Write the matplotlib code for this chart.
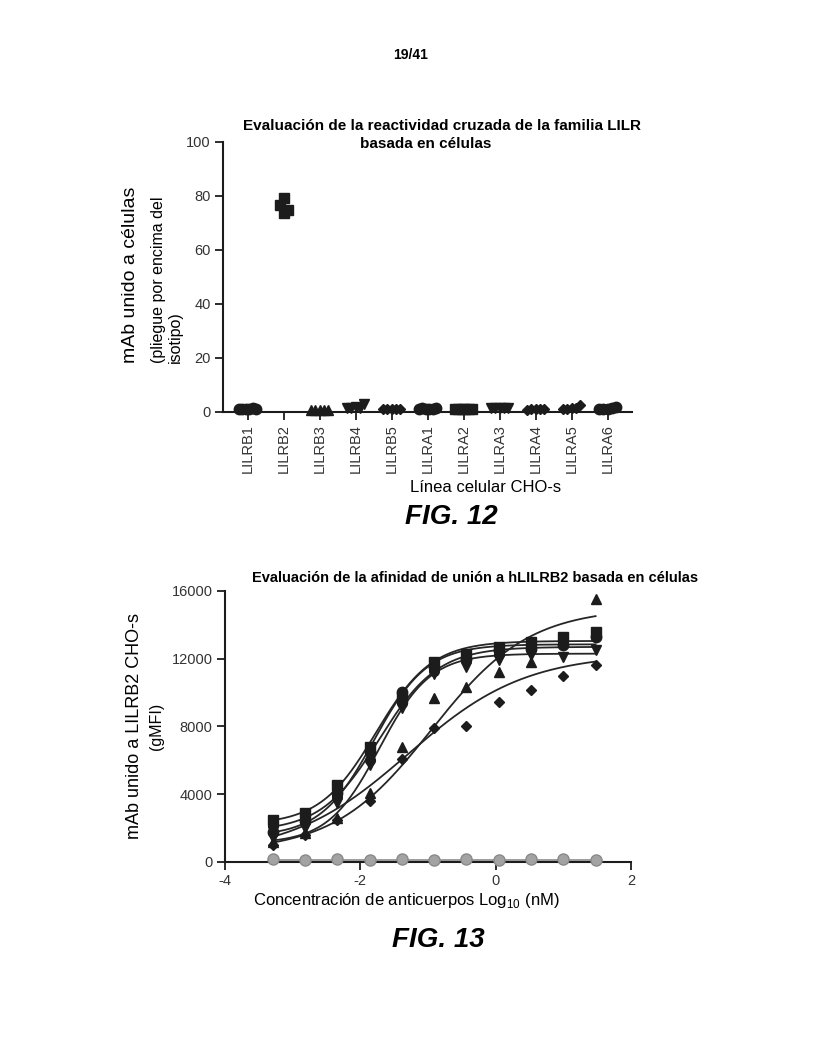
import numpy as np
import matplotlib
matplotlib.use("Agg")
import matplotlib.pyplot as plt

plt.rcParams['font.family'] = ['Liberation Sans', 'DejaVu Sans']

# --- FIG. 12 data: fold over isotype per CHO-s line ---
lilr_labels = ['LILRB1', 'LILRB2', 'LILRB3', 'LILRB4', 'LILRB5', 'LILRA1',
               'LILRA2', 'LILRA3', 'LILRA4', 'LILRA5', 'LILRA6']
lilr_markers = ['o', 's', '^', 'v', 'D', 'o', 's', 'v', 'D', 'D', 'o']
lilrb1 = [1.0, 1.1, 0.9, 1.0, 1.2, 1.0]
lilrb2 = [79.2, 76.7, 74.8, 73.6]
lilrb3 = [0.6, 0.8, 0.5, 0.7, 0.6]
lilrb4 = [1.5, 1.2, 1.6, 1.4, 3.0]
lilrb5 = [0.9, 1.0, 1.1, 0.9, 1.0]
lilra1 = [1.0, 1.2, 1.0, 1.1, 1.0, 1.2]
lilra2 = [0.9, 1.0, 0.9, 1.0, 1.0, 0.9]
lilra3 = [1.3, 1.2, 1.4, 1.3, 1.5]
lilra4 = [0.8, 1.0, 1.1, 0.9, 1.0]
lilra5 = [0.9, 1.0, 1.2, 1.4, 2.6]
lilra6 = [1.0, 1.1, 1.0, 1.3, 1.8]
lilr_values = [lilrb1, lilrb2, lilrb3, lilrb4, lilrb5, lilra1,
               lilra2, lilra3, lilra4, lilra5, lilra6]

# --- FIG. 13 data: gMFI vs antibody concentration (nM, 3-fold dilutions) ---
conc_nM = [0.000508, 0.00152, 0.00457, 0.0137, 0.0412, 0.123,
           0.370, 1.11, 3.33, 10.0, 30.0]
mab_squares = [2450, 2900, 4550, 6800, 9700, 11800, 12300, 12700, 13000, 13300, 13600]
mab_circles = [1750, 2400, 4100, 6500, 10050, 11500, 12000, 12500, 12600, 12800, 13300]
mab_circles2 = [2100, 2700, 3900, 6000, 9400, 11300, 11900, 12300, 12800, 13100, 13400]
mab_tri_down = [1400, 2000, 3500, 5700, 9100, 11100, 11500, 11900, 12200, 12100, 12500]
mab_tri_up = [1200, 1700, 2600, 4050, 6800, 9700, 10350, 11200, 11800, 13000, 15500]
mab_diamonds = [1000, 1600, 2500, 3600, 6100, 7900, 8050, 9430, 10150, 11000, 11650]
isotype = [150, 140, 150, 130, 150, 140, 150, 140, 150, 150, 140]

# 4PL fit parameters: bottom, top, logEC50, hill
fit_squares = [2200, 13050, -1.77, 1.05]
fit_circles = [1500, 12850, -1.80, 1.10]
fit_circles2 = [1800, 12700, -1.72, 1.00]
fit_tri_down = [1100, 12300, -1.72, 1.15]
fit_tri_up = [600, 15000, -0.95, 0.60]
fit_diamonds = [400, 12300, -1.30, 0.50]
fit_isotype = [143, 143, -1.0, 1.0]


def four_pl(x, p):
    bottom, top, logec50, hill = p
    return bottom + (top - bottom) / (1 + 10 ** ((logec50 - x) * hill))


ink = '#1c1c1c'
tick_col = '#333333'

fig = plt.figure(figsize=(8.17, 10.57), dpi=100)
fig.text(0.502, 0.948, '19/41', ha='center', va='center', fontsize=10, fontweight='bold')

# ---------------- FIG. 12 ----------------
ax1 = fig.add_axes([0.273, 0.6105, 0.5006, 0.2552])
for i, (vals, mk) in enumerate(zip(lilr_values, lilr_markers)):
    n = len(vals)
    if i == 1:
        offs = np.array([0.0, -0.1, 0.13, 0.0])
    else:
        offs = np.linspace(-0.24, 0.24, n)
    ms = 7.5 if mk in ('o', 's') else 7
    if mk == 'D':
        ms = 5.5
    ax1.plot(i + offs, vals, linestyle='none', marker=mk, ms=ms, color=ink,
             markeredgecolor=ink, clip_on=False, zorder=3)

ax1.set_xlim(-0.68, 10.68)
ax1.set_ylim(0, 100)
ax1.set_yticks([0, 20, 40, 60, 80, 100])
ax1.set_xticks(range(len(lilr_labels)))
ax1.set_xticklabels(lilr_labels, rotation=90)
for s in ['top', 'right']:
    ax1.spines[s].set_visible(False)
for s in ['left', 'bottom']:
    ax1.spines[s].set_linewidth(1.5)
    ax1.spines[s].set_color(ink)
ax1.tick_params(axis='both', length=6, width=1.3, color=ink, labelsize=10.5,
                labelcolor=tick_col, pad=3)

fig.text(0.541, 0.881, 'Evaluación de la reactividad cruzada de la familia LILR',
         ha='center', va='center', fontsize=11, fontweight='bold')
fig.text(0.521, 0.864, 'basada en células', ha='center', va='center',
         fontsize=11, fontweight='bold')
fig.text(0.160, 0.657, 'mAb unido a células', rotation=90, ha='center', va='bottom',
         fontsize=14)
fig.text(0.194, 0.657, '(pliegue por encima del', rotation=90, ha='center', va='bottom',
         fontsize=11.5)
fig.text(0.215, 0.657, 'isotipo)', rotation=90, ha='center', va='bottom',
         fontsize=11.5)
fig.text(0.594, 0.539, 'Línea celular CHO-s', ha='center', va='center', fontsize=12)
fig.text(0.553, 0.511, 'FIG. 12', ha='center', va='center', fontsize=20,
         fontweight='bold', fontstyle='italic')

# ---------------- FIG. 13 ----------------
ax2 = fig.add_axes([0.2754, 0.1845, 0.4969, 0.2564])
logc = np.log10(conc_nM)
xs = np.linspace(logc[0], logc[-1], 300)

series = [
    (mab_tri_up, fit_tri_up, '^', 7, ink),
    (mab_diamonds, fit_diamonds, 'D', 5.5, ink),
    (mab_tri_down, fit_tri_down, 'v', 7, ink),
    (mab_circles2, fit_circles2, 'o', 7, ink),
    (mab_circles, fit_circles, 'o', 7.5, ink),
    (mab_squares, fit_squares, 's', 7, ink),
]
for vals, p, mk, ms, col in series:
    ax2.plot(xs, four_pl(xs, p), color='#262626', lw=1.3, zorder=2)
    ax2.plot(logc, vals, linestyle='none', marker=mk, ms=ms, color=col,
             markeredgecolor=col, zorder=3, clip_on=False)

ax2.plot(xs, four_pl(xs, fit_isotype), color='#8c8c8c', lw=1.2, zorder=2)
ax2.plot(logc, isotype, linestyle='none', marker='o', ms=8, color='#a3a3a3',
         markeredgecolor='#8a8a8a', zorder=3, clip_on=False)

ax2.set_xlim(-4, 2)
ax2.set_ylim(0, 16000)
ax2.set_xticks([-4, -2, 0, 2])
ax2.set_xticklabels(['-4', '-2', '0', '2'])
ax2.set_yticks([0, 4000, 8000, 12000, 16000])
for s in ['top', 'right']:
    ax2.spines[s].set_visible(False)
for s in ['left', 'bottom']:
    ax2.spines[s].set_linewidth(1.5)
    ax2.spines[s].set_color(ink)
ax2.tick_params(axis='both', length=6, width=1.3, color=ink, labelsize=10.5,
                labelcolor=tick_col, pad=3)

fig.text(0.582, 0.453, 'Evaluación de la afinidad de unión a hLILRB2 basada en células',
         ha='center', va='center', fontsize=10.5, fontweight='bold')
fig.text(0.165, 0.313, 'mAb unido a LILRB2 CHO-s', rotation=90, ha='center',
         va='center', fontsize=13)
fig.text(0.192, 0.313, '(gMFI)', rotation=90, ha='center', va='center', fontsize=11.5)
fig.text(0.497, 0.148, 'Concentración de anticuerpos Log$_{\\mathregular{10}}$ (nM)',
         ha='center', va='center', fontsize=12)
fig.text(0.537, 0.111, 'FIG. 13', ha='center', va='center', fontsize=20,
         fontweight='bold', fontstyle='italic')

fig.savefig('out.png', dpi=100, facecolor='white')
